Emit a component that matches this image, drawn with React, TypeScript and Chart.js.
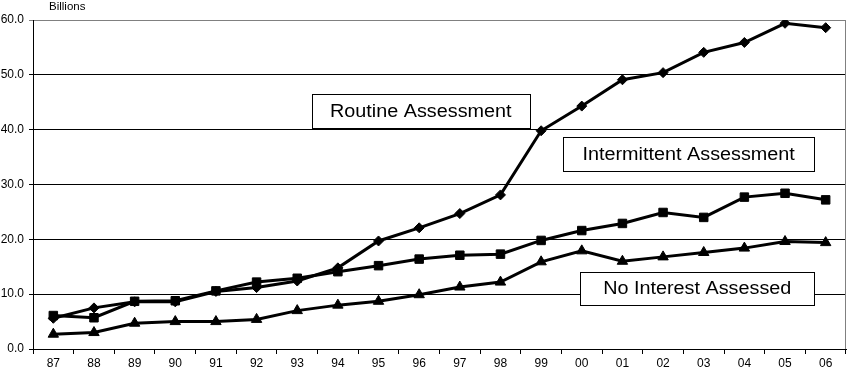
import React, { useEffect, useRef } from "react";
import { Chart, registerables } from "chart.js";

Chart.register(...registerables);

const categories = ["87", "88", "89", "90", "91", "92", "93", "94", "95", "96", "97", "98", "99", "00", "01", "02", "03", "04", "05", "06"];
const routine = [5.6, 7.5, 8.6, 8.6, 10.5, 11.2, 12.4, 14.8, 19.7, 22.1, 24.7, 28.1, 39.8, 44.3, 49.1, 50.4, 54.1, 55.9, 59.4, 58.6];
const intermittent = [6.1, 5.7, 8.7, 8.8, 10.6, 12.2, 12.9, 14.1, 15.2, 16.4, 17.1, 17.3, 19.8, 21.6, 22.9, 24.9, 24.0, 27.7, 28.4, 27.2];
const noInterest = [2.7, 3.0, 4.7, 5.0, 5.0, 5.4, 7.0, 8.0, 8.7, 9.9, 11.3, 12.2, 15.9, 17.9, 16.0, 16.8, 17.6, 18.4, 19.6, 19.4];
const yTicks = [0, 10, 20, 30, 40, 50, 60];
const axisTitle = "Billions";

// label boxes anchored in data coordinates (category index, value)
const boxTexts = ["Routine Assessment", "Intermittent Assessment", "No Interest Assessed"];
const boxIndex = [9.04, 15.63, 15.84];
const boxValue = [43.35, 35.6, 11.1];
const boxWidth = [218, 251, 234];
const boxHeight = [34, 34, 33];

const FONT = "'Liberation Sans', Arial, sans-serif";

export default function App() {
  const ref = useRef<HTMLCanvasElement | null>(null);
  useEffect(() => {
    document.body.style.margin = "0";
    const canvas = ref.current;
    if (!canvas) return;

    const overlay = {
      id: "overlay",
      afterDraw(chart: any) {
        const ctx = chart.ctx;
        const x = chart.scales.x;
        const y = chart.scales.y;
        const area = chart.chartArea;
        ctx.save();
        // right border
        ctx.strokeStyle = "#808080";
        ctx.lineWidth = 1;
        ctx.beginPath();
        ctx.moveTo(Math.round(area.right) - 0.5, area.top);
        ctx.lineTo(Math.round(area.right) - 0.5, area.bottom);
        ctx.stroke();
        // axis title
        ctx.fillStyle = "#000";
        ctx.font = `11.5px ${FONT}`;
        ctx.textAlign = "left";
        ctx.textBaseline = "middle";
        ctx.fillText(axisTitle, 49, 7);
        // boxes
        for (let i = 0; i < boxTexts.length; i++) {
          const cx = x.getPixelForValue(boxIndex[i]);
          const cy = y.getPixelForValue(boxValue[i]);
          const w = boxWidth[i];
          const h = boxHeight[i];
          const lx = Math.round(cx - w / 2) + 0.5;
          const ty = Math.round(cy - h / 2) + 0.5;
          ctx.fillStyle = "#fff";
          ctx.fillRect(lx, ty, w, h);
          ctx.strokeStyle = "#000";
          ctx.lineWidth = 1;
          ctx.strokeRect(lx, ty, w, h);
          ctx.fillStyle = "#000";
          ctx.save();
          ctx.translate(cx, cy + 1);
          ctx.scale(1.1, 1);
          ctx.font = `18px ${FONT}`;
          ctx.textAlign = "center";
          ctx.textBaseline = "middle";
          ctx.fillText(boxTexts[i], 0, 0);
          ctx.restore();
        }
        ctx.restore();
      },
    };

    const common = {
      borderColor: "#000",
      backgroundColor: "#000",
      pointBackgroundColor: "#000",
      pointBorderColor: "#000",
      borderWidth: 3,
      tension: 0,
      fill: false,
    };

    const chart = new Chart(canvas, {
      type: "line",
      data: {
        labels: categories,
        datasets: [
          { ...common, label: "Routine Assessment", data: routine, pointStyle: "rectRot", pointRadius: 5, pointBorderWidth: 1 },
          { ...common, label: "Intermittent Assessment", data: intermittent, pointStyle: "rect", pointRadius: 6, pointBorderWidth: 1 },
          { ...common, label: "No Interest Assessed", data: noInterest, pointStyle: "triangle", pointRadius: 6, pointBorderWidth: 1 },
        ],
      },
      options: {
        animation: false,
        responsive: false,
        maintainAspectRatio: false,
        layout: { padding: { top: 20, right: 0, left: 0, bottom: 0 } },
        plugins: { legend: { display: false }, tooltip: { enabled: false } },
        scales: {
          x: {
            type: "category",
            offset: true,
            grid: {
              offset: true,
              drawOnChartArea: false,
              drawTicks: true,
              tickLength: 5,
              color: "#000",
            },
            border: { color: "#000", width: 1 },
            ticks: {
              color: "#000",
              font: { family: FONT, size: 12 },
              padding: 2,
              maxRotation: 0,
              autoSkip: false,
            },
            afterFit(scale: any) {
              scale.height = 24;
            },
          },
          y: {
            min: 0,
            max: 60,
            afterBuildTicks(scale: any) {
              scale.ticks = yTicks.map((v) => ({ value: v }));
            },
            grid: {
              color: (c: any) => (c.tick && c.tick.value === 60 ? "#808080" : "#000"),
              tickLength: 4,
              lineWidth: 1,
            },
            border: { color: "#000", width: 1 },
            ticks: {
              color: "#000",
              font: { family: FONT, size: 12 },
              padding: 5,
              callback: (v: any) => Number(v).toFixed(1),
            },
            afterFit(scale: any) {
              scale.width = 33;
            },
          },
        },
      },
      plugins: [overlay],
    } as any);
    return () => chart.destroy();
  }, []);

  return (
    <div style={{ position: "absolute", left: 0, top: 0, width: 848, height: 373, overflow: "hidden", background: "#fff" }}>
      <canvas ref={ref} width={853} height={373} style={{ display: "block", width: 853, height: 373 }} />
    </div>
  );
}
